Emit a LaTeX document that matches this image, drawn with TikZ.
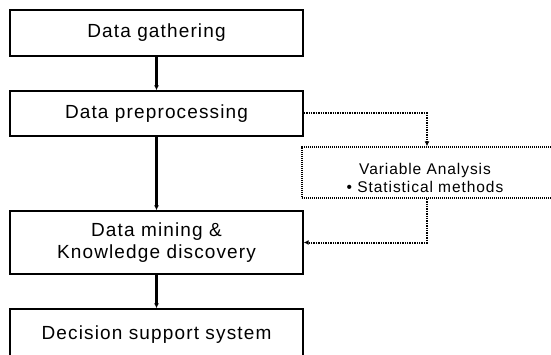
\documentclass[tikz,border=0pt]{standalone}
\usepackage{fontspec}
\setmainfont{Liberation Sans}[LetterSpace=6]
\usetikzlibrary{arrows.meta}

\begin{document}
\begin{tikzpicture}[x=1pt, y=1pt,
  stage/.style={draw, line width=1.4pt, minimum width=293pt, align=center,
    font=\fontsize{19}{22}\selectfont},
  varbox/.style={draw, line width=1.4pt, dash pattern=on 1.2pt off 0.8pt,
    minimum width=250pt, minimum height=51pt, align=center,
    font=\fontsize{15.5}{18}\selectfont},
  link/.style={line width=2.2pt, -{Latex[length=5pt, width=5pt]}},
  flow/.style={line width=2pt, dash pattern=on 1.4pt off 1pt,
    -{Latex[length=5pt, width=5pt]}}]
 \useasboundingbox (0,0) rectangle (551,354);
 \node[stage, minimum height=46pt] (gather) at (156.5,321) {Data gathering};
 \node[stage, minimum height=45pt] (prep) at (156.5,240.5) {Data preprocessing};
 \node[stage, minimum height=63pt] (mine) at (156.5,111.5) {Data mining \&\\Knowledge discovery};
 \node[stage, minimum height=52pt] (dss) at (156.5,19) {Decision support system};
 \node[varbox] (var) at (427,181.5) {};
 \node[align=center, font=\fontsize{15.5}{18}\selectfont] (vartext) at (425,176)
   {Variable Analysis\\\textbullet\ Statistical methods};

 \draw[link] (gather) -- (prep);
 \draw[link] (prep) -- (mine);
 \draw[link] (mine) -- (dss);
 \draw[flow] (prep.east) -| (var.north);
 \draw[flow] (var.south) |- (mine.east);
\end{tikzpicture}
\end{document}
